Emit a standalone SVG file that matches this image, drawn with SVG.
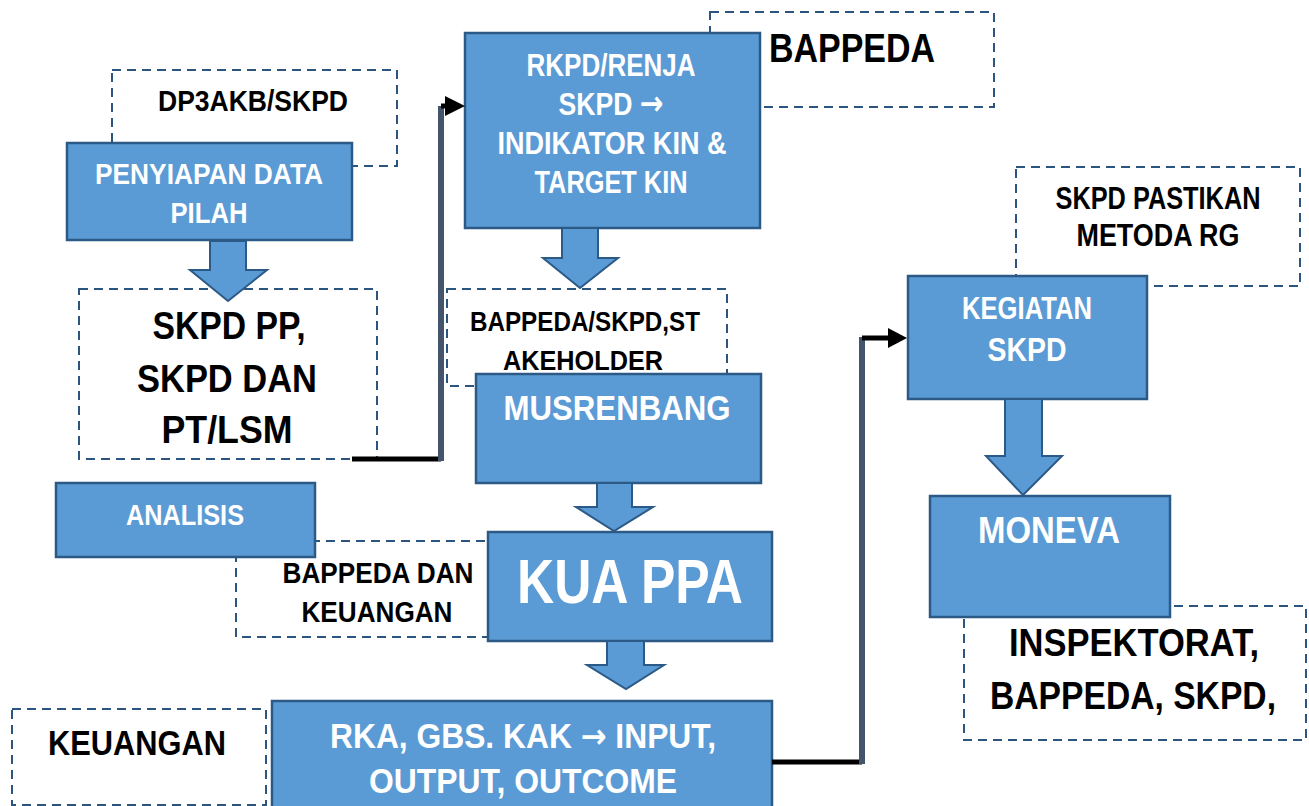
<svg xmlns="http://www.w3.org/2000/svg" width="1309" height="806" viewBox="0 0 1309 806">
<style>
.dash{fill:#ffffff;stroke:#2b557f;stroke-width:2;stroke-dasharray:9 6}
.box{fill:#5b9bd5;stroke:#2c5a86;stroke-width:2.5}
.barrow{fill:#5b9bd5;stroke:#2c5a86;stroke-width:2;stroke-linejoin:miter}
text{font-family:"Liberation Sans",Arial,sans-serif;font-weight:bold;text-anchor:middle}
.arr{font-family:"DejaVu Sans",sans-serif;font-weight:bold;font-size:34px}
.w{fill:#ffffff}
.k{fill:#000000}
.blk{stroke:#000000;stroke-width:5;fill:none}
.gry{stroke:#44546a;stroke-width:6;fill:none}
</style>
<rect width="1309" height="806" fill="#ffffff"/>

<!-- dashed annotation boxes -->
<g id="note-dp3akb">
<rect class="dash" x="112" y="70" width="285" height="96"/>
<text class="k" x="253" y="111" font-size="30" textLength="190" lengthAdjust="spacingAndGlyphs">DP3AKB/SKPD</text>
</g>
<g id="note-skpdpp">
<rect class="dash" x="79" y="289" width="298" height="170"/>
<text class="k" x="229" y="339" font-size="39" textLength="153" lengthAdjust="spacingAndGlyphs">SKPD PP,</text>
<text class="k" x="227" y="392" font-size="39" textLength="180" lengthAdjust="spacingAndGlyphs">SKPD DAN</text>
<text class="k" x="227" y="443" font-size="39" textLength="131" lengthAdjust="spacingAndGlyphs">PT/LSM</text>
</g>
<g id="note-bappeda-top">
<rect class="dash" x="710" y="12" width="284" height="95"/>
<text class="k" x="852" y="62" font-size="40" textLength="166" lengthAdjust="spacingAndGlyphs">BAPPEDA</text>
</g>
<g id="note-stakeholder">
<rect class="dash" x="447" y="289" width="280" height="97"/>
<text class="k" x="585" y="331" font-size="28" textLength="230" lengthAdjust="spacingAndGlyphs">BAPPEDA/SKPD,ST</text>
<text class="k" x="583" y="370" font-size="28" textLength="160" lengthAdjust="spacingAndGlyphs">AKEHOLDER</text>
</g>
<g id="note-bappeda-keuangan">
<rect class="dash" x="236" y="541" width="252" height="96"/>
<text class="k" x="378" y="583" font-size="29" textLength="191" lengthAdjust="spacingAndGlyphs">BAPPEDA DAN</text>
<text class="k" x="377" y="622" font-size="29" textLength="151" lengthAdjust="spacingAndGlyphs">KEUANGAN</text>
</g>
<g id="note-keuangan">
<rect class="dash" x="12" y="709" width="254" height="96"/>
<text class="k" x="137" y="755" font-size="35" textLength="178" lengthAdjust="spacingAndGlyphs">KEUANGAN</text>
</g>
<g id="note-metoda">
<rect class="dash" x="1016" y="167" width="284" height="119"/>
<text class="k" x="1158" y="209" font-size="31" textLength="205" lengthAdjust="spacingAndGlyphs">SKPD PASTIKAN</text>
<text class="k" x="1158" y="246" font-size="31" textLength="163" lengthAdjust="spacingAndGlyphs">METODA RG</text>
</g>
<g id="note-inspektorat">
<rect class="dash" x="964" y="606" width="342" height="134"/>
<text class="k" x="1134" y="656" font-size="39" textLength="250" lengthAdjust="spacingAndGlyphs">INSPEKTORAT,</text>
<text class="k" x="1133" y="709" font-size="39" textLength="286" lengthAdjust="spacingAndGlyphs">BAPPEDA, SKPD,</text>
</g>

<!-- process nodes -->
<g id="node-penyiapan">
<rect class="box" x="67" y="143" width="285" height="97"/>
<text class="w" x="209" y="184" font-size="29" textLength="228" lengthAdjust="spacingAndGlyphs">PENYIAPAN DATA</text>
<text class="w" x="209" y="223" font-size="29" textLength="77" lengthAdjust="spacingAndGlyphs">PILAH</text>
</g>
<g id="node-rkpd">
<rect class="box" x="465" y="33" width="295" height="195"/>
<text class="w" x="611" y="76" font-size="32" textLength="169" lengthAdjust="spacingAndGlyphs">RKPD/RENJA</text>
<text class="w" x="611" y="115" font-size="32" textLength="105" lengthAdjust="spacingAndGlyphs">SKPD <tspan class="arr">→</tspan></text>
<text class="w" x="612" y="154" font-size="32" textLength="229" lengthAdjust="spacingAndGlyphs">INDIKATOR KIN &amp;</text>
<text class="w" x="611" y="193" font-size="32" textLength="153" lengthAdjust="spacingAndGlyphs">TARGET KIN</text>
</g>
<g id="node-musrenbang">
<rect class="box" x="476" y="374" width="285" height="109"/>
<text class="w" x="617" y="420" font-size="35" textLength="227" lengthAdjust="spacingAndGlyphs">MUSRENBANG</text>
</g>
<g id="node-analisis">
<rect class="box" x="56" y="483" width="259" height="74"/>
<text class="w" x="185" y="525" font-size="30" textLength="118" lengthAdjust="spacingAndGlyphs">ANALISIS</text>
</g>
<g id="node-kuappa">
<rect class="box" x="488" y="532" width="284" height="109"/>
<text class="w" x="630" y="603" font-size="63" textLength="226" lengthAdjust="spacingAndGlyphs">KUA PPA</text>
</g>
<g id="node-rka">
<rect class="box" x="272" y="701" width="500" height="110"/>
<text class="w" x="523" y="748" font-size="35" textLength="386" lengthAdjust="spacingAndGlyphs">RKA, GBS. KAK <tspan class="arr">→</tspan> INPUT,</text>
<text class="w" x="523" y="793" font-size="35" textLength="308" lengthAdjust="spacingAndGlyphs">OUTPUT, OUTCOME</text>
</g>
<g id="node-kegiatan">
<rect class="box" x="908" y="276" width="239" height="123"/>
<text class="w" x="1027" y="319" font-size="32" textLength="130" lengthAdjust="spacingAndGlyphs">KEGIATAN</text>
<text class="w" x="1027" y="361" font-size="34" textLength="79" lengthAdjust="spacingAndGlyphs">SKPD</text>
</g>
<g id="node-moneva">
<rect class="box" x="930" y="496" width="240" height="121"/>
<text class="w" x="1049" y="543" font-size="37" textLength="142" lengthAdjust="spacingAndGlyphs">MONEVA</text>
</g>

<!-- connectors -->
<g id="connectors">
<polygon class="barrow" points="210,241 246,241 246,270 267,270 228,301 190,270 210,270"/>
<polygon class="barrow" points="562,228 598,228 598,258 618,258 580,288 543,258 562,258"/>
<polygon class="barrow" points="597,483 632,483 632,507 653,507 614,531 576,507 597,507"/>
<polygon class="barrow" points="607,641 644,641 644,665 664,665 626,689 587,665 607,665"/>
<polygon class="barrow" points="1005,399 1042,399 1042,456 1062,456 1023,495 986,456 1005,456"/>

<line class="blk" x1="352" y1="459" x2="441" y2="459"/>
<line class="gry" x1="441" y1="461" x2="441" y2="106"/>
<line class="blk" x1="441" y1="106" x2="447" y2="106"/>
<polygon points="445,96 465,106 445,116" fill="#000000"/>

<line class="blk" x1="772" y1="762" x2="862" y2="762"/>
<line class="gry" x1="862" y1="764" x2="862" y2="337"/>
<line class="blk" x1="862" y1="338" x2="890" y2="338"/>
<polygon points="888,328 907,338 888,348" fill="#000000"/>
</g>
</svg>
